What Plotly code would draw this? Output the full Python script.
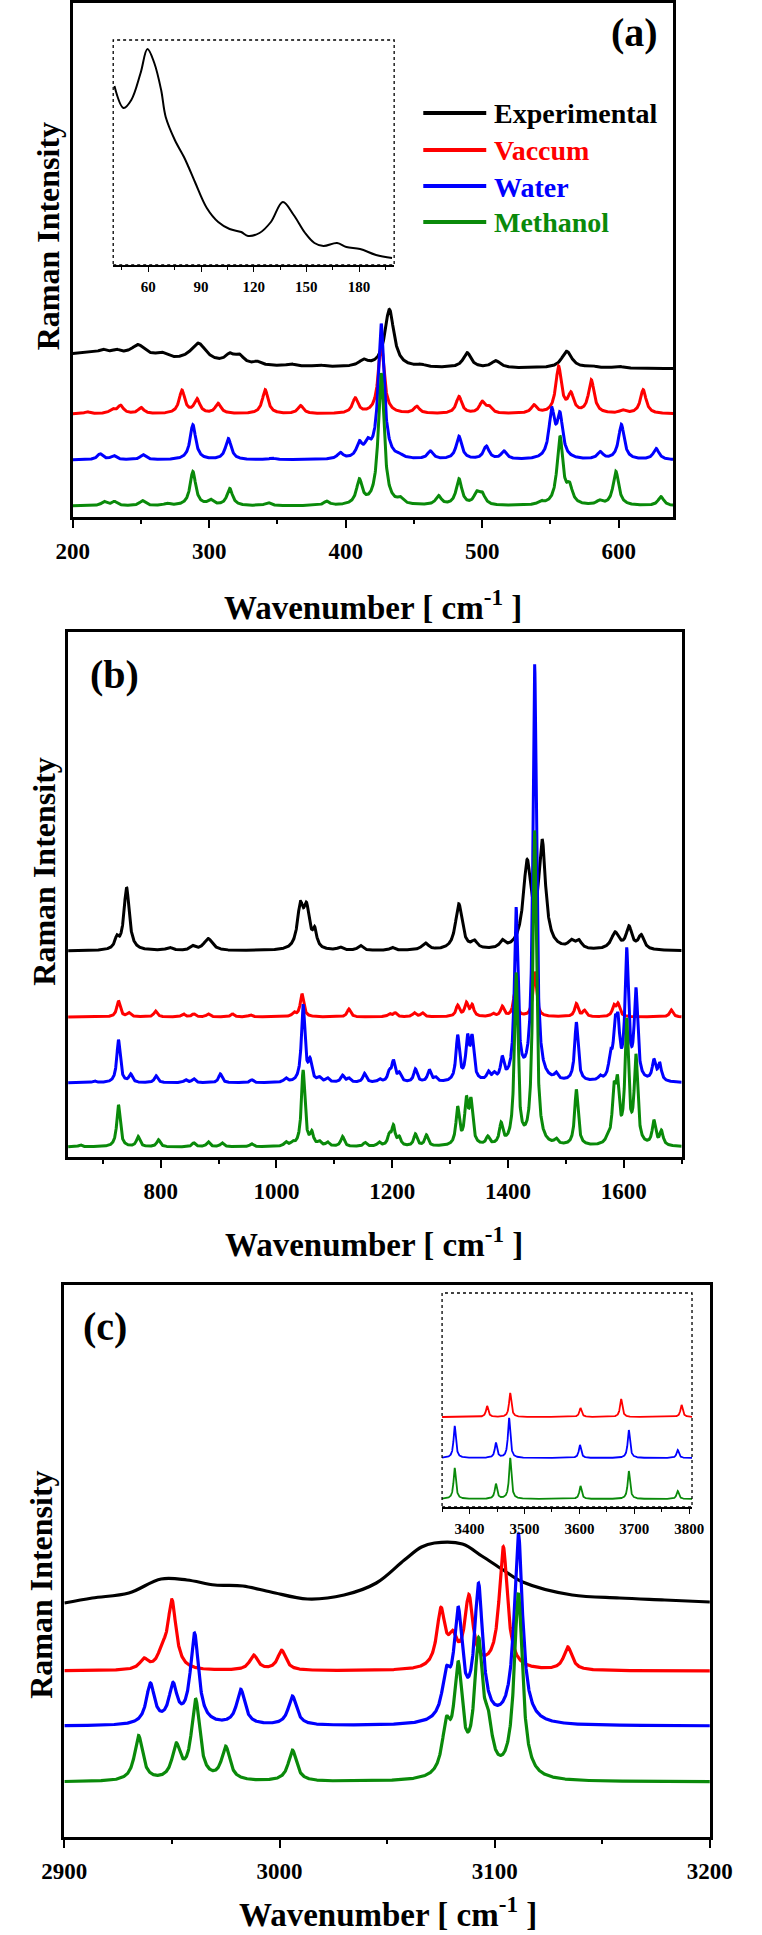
import numpy as np
import plotly.graph_objects as go

W, H = 762, 1935
FONT = "Liberation Serif"

SERIES = ["Experimental", "Vaccum", "Water", "Methanol"]
COLORS = ["#000000", "#ff0000", "#0000ff", "#0a8a0a"]

# ---------------- Panel (a): 200-640 cm-1 ----------------
# experimental: (position, height, half-width)
A_EXP_PEAKS = [(215, 16, 60), (222, 3, 3), (232, 3, 3), (248, 11, 6), (265, 5, 5),
               (292, 19, 7), (315, 8, 4), (322, 8, 4), (335, 3, 3), (360, 2, 4),
               (380, 1.5, 4), (413, 6, 4), (432, 58, 4), (455, 2, 4), (489, 15, 3.5),
               (510, 7, 4), (562, 17, 4.5), (580, 2, 4), (600, 2, 4)]
A_VAC_PEAKS = [(210.5, 2), (229, 4), (235, 8), (250, 6), (280, 23), (291, 14), (306.5, 10),
               (341, 24), (367, 8), (407, 15), (426, 70), (452, 7), (483, 17), (500, 11),
               (505, 6), (538, 8), (556, 46), (565, 18), (580, 33), (603, 3), (618, 24)]
A_WAT_PEAKS = [(220, 6), (230, 4), (251.5, 5), (288, 35), (314, 21), (346, 1.5), (396, 6),
               (410, 14), (416, 12), (426, 135), (439.5, 2), (462, 8), (483, 23), (503, 13),
               (516, 8), (551, 46), (557, 41), (586.5, 7), (602, 35), (627.5, 11)]
A_MET_PEAKS = [(223, 4), (230.5, 4), (251, 5), (269, 2), (288, 34), (301, 5), (315, 17),
               (343, 3), (386, 4), (410, 24), (426, 132), (440, 5), (468, 9), (483, 26),
               (496, 11), (500, 10), (543, 3), (557, 68), (564, 16), (586, 4), (598, 34), (631, 9)]
A_OFFSETS = [148, 103, 57, 11]
A_TICKS = [200, 300, 400, 500, 600]

# inset (a): low-frequency experimental spectrum (x, intensity)
A_INSET_X = [40.7, 45.9, 50.3, 55.6, 59.5, 63.4, 67.3, 69.9, 75.1, 80.3, 82.9, 86.8, 93.3,
             99.8, 106.3, 112.9, 116.8, 123.3, 129.8, 136.6, 142.8, 149.3, 154.6, 159.7,
             167.5, 172.8, 180.6, 189.7, 198.8]
A_INSET_Y = [179, 157, 165, 192, 216, 202, 175, 148, 125, 108, 98, 82, 57,
             43, 36, 33, 29, 32, 43, 63, 50, 32, 22, 19,
             22, 18, 16, 10, 7]
A_INSET_TICKS = [60, 90, 120, 150, 180]

# ---------------- Panel (b): 640-1700 cm-1 ----------------
B_EXP_PEAKS = [(724, 10, 4), (741, 63, 5.5), (815, 3, 6), (855, 4, 5), (882, 12, 9),
               (1041, 40, 6), (1052, 38, 6), (1066, 16, 4), (1110, 3, 5), (1145, 5, 5),
               (1200, 3, 5), (1257, 7, 7), (1315, 46, 7), (1342, 7, 6), (1390, 7, 5),
               (1433, 84, 8), (1459, 104, 7), (1509, 7, 6), (1522, 8, 6), (1585, 17, 8),
               (1609, 22, 6), (1630, 14, 6)]
B_VAC_PEAKS = [(727, 16), (745, 4), (791, 6), (839, 3), (857, 3), (882, 3), (924, 3),
               (955, 2), (1030, 4), (1044, 23), (1125, 8), (1195, 3), (1205, 4), (1238, 4),
               (1252, 4), (1313, 11), (1328, 13), (1338, 11), (1374, 3), (1390, 10),
               (1412, 25), (1446, 45), (1518, 13), (1532, 6), (1583, 10), (1590, 12), (1682, 7)]
B_WAT_PEAKS = [(685, 2), (727, 43), (748, 8), (792, 7), (843, 3), (857, 4), (903, 9),
               (957, 3), (1016, 4), (1046, 77), (1058, 19), (1074, 4), (1088, 4), (1114, 7),
               (1125, 4), (1152, 9), (1178, 3), (1195, 9), (1202, 20), (1212, 8), (1240, 13),
               (1264, 12), (1275, 4), (1313, 45), (1330, 40), (1338, 40), (1366, 8), (1376, 6),
               (1390, 21), (1414, 170), (1446, 416), (1483, 6), (1518, 59), (1559, 4),
               (1577, 20), (1585, 44), (1590, 46), (1605, 127), (1621, 88), (1652, 20), (1662, 17)]
B_MET_PEAKS = [(661, 2), (727, 42), (761, 10), (796, 7), (857, 4), (882, 5), (906, 4),
               (957, 3), (1016, 4), (1028, 3), (1046, 76), (1061, 12), (1074, 4), (1088, 4),
               (1114, 10), (1153, 4), (1177, 4), (1195, 10), (1202, 19), (1212, 8), (1240, 12),
               (1259, 11), (1313, 37), (1328, 42), (1336, 41), (1365, 8), (1388, 20),
               (1414, 170), (1446, 314), (1483, 5), (1518, 56), (1572, 5), (1583, 47),
               (1589, 53), (1605, 121), (1621, 86), (1652, 24), (1665, 14)]
B_OFFSETS = [206, 140, 74, 10]
B_TICKS = [800, 1000, 1200, 1400, 1600]

# ---------------- Panel (c): 2900-3200 cm-1 ----------------
C_EXP_X = [2900, 2913, 2930, 2945, 2957, 2970, 2983, 2996, 3013, 3030, 3045, 3058,
           3066, 3072, 3085, 3094, 3104, 3113, 3136, 3158, 3179, 3200]
C_EXP_Y = [0, 5, 10, 24, 23, 18, 17, 11, 4, 8, 20, 43,
           56, 60, 59, 47, 33, 21, 8, 5, 3, 1]
C_VAC_PEAKS = [(2937, 10), (2945.5, 14), (2950, 68), (2988, 15), (3001, 20), (3075, 57),
               (3080.5, 25), (3088, 70), (3104, 122), (3134, 23)]
C_WAT_PEAKS = [(2940, 40), (2950.5, 37), (2960.5, 90), (2982, 35), (3006, 29),
               (3077.5, 40), (3083, 105), (3092.5, 133), (3111, 190)]
C_MET_PEAKS = [(2934.5, 45), (2952, 33), (2961, 80), (2975, 33), (3006, 31),
               (3077.5, 45), (3083, 105), (3092.5, 127), (3097, 38), (3111, 185)]
C_OFFSETS = [234, 166, 111, 55]
C_TICKS = [2900, 3000, 3100, 3200]

# inset (c): 3350-3805 cm-1
CI_VAC_PEAKS = [(3432, 11), (3474, 24), (3602, 9), (3676, 18), (3786, 12)]
CI_WAT_PEAKS = [(3373, 32), (3448, 15), (3472, 40), (3601, 13), (3690, 28), (3779, 8)]
CI_MET_PEAKS = [(3373, 31), (3448, 15), (3474, 41), (3602, 13), (3690, 28), (3779, 8)]
CI_OFFSETS = [90, 49, 8]
CI_TICKS = [3400, 3500, 3600, 3700, 3800]

HW_A, HW_B, HW_C, HW_CI = 2.5, 3.5, 2.3, 2.5


def spectrum(x, peaks, hw, base):
    y = np.full_like(x, float(base))
    for p in peaks:
        w = p[2] if len(p) > 2 else hw
        y += p[1] / (1.0 + ((x - p[0]) / w) ** 2)
    return y


def px_x(px):
    return px / W


def px_y(py):
    return 1 - py / H


fig = go.Figure()

# panel (a)
xa = np.arange(200, 640.001, 0.2)
a_sets = [(A_EXP_PEAKS, None), (A_VAC_PEAKS, HW_A), (A_WAT_PEAKS, HW_A), (A_MET_PEAKS, HW_A)]
for i, (pk, hw) in enumerate(a_sets):
    fig.add_trace(go.Scatter(x=xa, y=spectrum(xa, pk, hw, A_OFFSETS[i]), mode="lines",
                             name=SERIES[i], line=dict(color=COLORS[i], width=3),
                             xaxis="x", yaxis="y", showlegend=False))
fig.add_trace(go.Scatter(x=A_INSET_X, y=A_INSET_Y, mode="lines", line_shape="spline",
                         line=dict(color="black", width=2), xaxis="x2", yaxis="y2",
                         showlegend=False, name="Experimental (low)"))

# panel (b)
xb = np.arange(640, 1700.001, 0.25)
b_sets = [(B_EXP_PEAKS, None), (B_VAC_PEAKS, HW_B), (B_WAT_PEAKS, HW_B), (B_MET_PEAKS, HW_B)]
for i, (pk, hw) in enumerate(b_sets):
    fig.add_trace(go.Scatter(x=xb, y=spectrum(xb, pk, hw, B_OFFSETS[i]), mode="lines",
                             name=SERIES[i], line=dict(color=COLORS[i], width=3),
                             xaxis="x3", yaxis="y3", showlegend=False))

# panel (c)
xc = np.arange(2900, 3200.001, 0.1)
fig.add_trace(go.Scatter(x=C_EXP_X, y=[v + C_OFFSETS[0] for v in C_EXP_Y], mode="lines",
                         line_shape="spline", name=SERIES[0],
                         line=dict(color=COLORS[0], width=3.2), xaxis="x4", yaxis="y4",
                         showlegend=False))
for i, pk in enumerate([C_VAC_PEAKS, C_WAT_PEAKS, C_MET_PEAKS], start=1):
    fig.add_trace(go.Scatter(x=xc, y=spectrum(xc, pk, HW_C, C_OFFSETS[i]), mode="lines",
                             name=SERIES[i], line=dict(color=COLORS[i], width=3.2),
                             xaxis="x4", yaxis="y4", showlegend=False))

# inset (c)
xci = np.arange(3350, 3805.001, 0.25)
for i, pk in enumerate([CI_VAC_PEAKS, CI_WAT_PEAKS, CI_MET_PEAKS]):
    fig.add_trace(go.Scatter(x=xci, y=spectrum(xci, pk, HW_CI, CI_OFFSETS[i]), mode="lines",
                             name=SERIES[i + 1], line=dict(color=COLORS[i + 1], width=1.8),
                             xaxis="x5", yaxis="y5", showlegend=False))

tickfont_main = dict(family=FONT, size=23, color="black")
tickfont_inset = dict(family=FONT, size=15, color="black")


def bold(vals):
    return ["<b>%d</b>" % v for v in vals]


def main_x(domain, rng, ticks, minor_dtick, anchor):
    return dict(domain=domain, range=rng, anchor=anchor, showline=True, linecolor="black",
                linewidth=2.5, mirror=True, ticks="outside", ticklen=8, tickwidth=2,
                tickcolor="black", tickmode="array", tickvals=ticks, ticktext=bold(ticks),
                showgrid=False, zeroline=False, tickfont=tickfont_main, ticklabelstandoff=4,
                minor=dict(ticks="outside", ticklen=4, tickwidth=2, tickcolor="black",
                           tickmode="linear", dtick=minor_dtick, tick0=0, showgrid=False))


def main_y(domain, rng, anchor):
    return dict(domain=domain, range=rng, anchor=anchor, showline=True, linecolor="black",
                linewidth=2.5, mirror=True, ticks="", showticklabels=False, showgrid=False,
                zeroline=False)


def inset_x(domain, rng, ticks, minor_dtick, anchor):
    return dict(domain=domain, range=rng, anchor=anchor, showline=True, linecolor="black",
                linewidth=1.5, mirror=False, ticks="outside", ticklen=5, tickwidth=1.2,
                tickcolor="black", tickmode="array", tickvals=ticks, ticktext=bold(ticks),
                showgrid=False, zeroline=False, tickfont=tickfont_inset, ticklabelstandoff=2,
                minor=dict(ticks="outside", ticklen=3, tickwidth=1.2, tickcolor="black",
                           tickmode="linear", dtick=minor_dtick, tick0=0, showgrid=False))


def inset_y(domain, rng, anchor):
    return dict(domain=domain, range=rng, anchor=anchor, visible=False, showgrid=False,
                zeroline=False)


# pixel boxes: (left, top, right, bottom)
PA = (53, 3, 692, 517)
PAI = (96, 40, 395, 265)
PB = (48, 632, 701, 1157)
PC = (44, 1285, 731, 1837)
PCI = (446, 1293, 712, 1507)


def dx(box):
    return [px_x(box[0]), px_x(box[2])]


def dy(box):
    return [px_y(box[3]), px_y(box[1])]


fig.update_layout(
    width=W, height=H, autosize=False,
    margin=dict(l=0, r=0, t=0, b=0, pad=0),
    paper_bgcolor="white", plot_bgcolor="rgba(0,0,0,0)",
    xaxis=main_x(dx(PA), [200, 640], A_TICKS, 50, "y"),
    yaxis=main_y(dy(PA), [0, PA[3] - PA[1]], "x"),
    xaxis2=inset_x(dx(PAI), [40, 200], A_INSET_TICKS, 15, "y2"),
    yaxis2=inset_y(dy(PAI), [0, PAI[3] - PAI[1]], "x2"),
    xaxis3=main_x(dx(PB), [640, 1700], B_TICKS, 100, "y3"),
    yaxis3=main_y(dy(PB), [0, PB[3] - PB[1]], "x3"),
    xaxis4=main_x(dx(PC), [2900, 3200], C_TICKS, 50, "y4"),
    yaxis4=main_y(dy(PC), [0, PC[3] - PC[1]], "x4"),
    xaxis5=inset_x(dx(PCI), [3350, 3805], CI_TICKS, 50, "y5"),
    yaxis5=inset_y(dy(PCI), [0, PCI[3] - PCI[1]], "x5"),
)

shapes = []
for box in (PAI, PCI):
    shapes.append(dict(type="rect", xref="paper", yref="paper",
                       x0=px_x(box[0]), x1=px_x(box[2]), y0=px_y(box[3]), y1=px_y(box[1]),
                       line=dict(color="black", width=1.3, dash="dot")))

annotations = []
# legend in panel (a)
LEG_ROWS = [113, 150, 186, 222]
for i, name in enumerate(SERIES):
    shapes.append(dict(type="line", xref="paper", yref="paper",
                       x0=px_x(426), x1=px_x(493), y0=px_y(LEG_ROWS[i]), y1=px_y(LEG_ROWS[i]),
                       line=dict(color=COLORS[i], width=4)))
    annotations.append(dict(xref="paper", yref="paper", x=px_x(499), y=px_y(LEG_ROWS[i] + 1),
                            xanchor="left", yanchor="middle", showarrow=False,
                            text="<b>%s</b>" % name,
                            font=dict(family=FONT, size=28, color=COLORS[i])))

# panel labels
for lab, (x, y) in [("(a)", (651, 33)), ("(b)", (97, 674)), ("(c)", (87, 1326))]:
    annotations.append(dict(xref="paper", yref="paper", x=px_x(x), y=px_y(y),
                            xanchor="center", yanchor="middle", showarrow=False,
                            text="<b>%s</b>" % lab, font=dict(family=FONT, size=40, color="black")))

# axis titles
for (x, y) in [(372, 605), (374, 1242), (388, 1912)]:
    annotations.append(dict(xref="paper", yref="paper", x=px_x(x), y=px_y(y),
                            xanchor="center", yanchor="middle", showarrow=False,
                            text="<b>Wavenumber [ cm<sup>-1</sup> ]</b>",
                            font=dict(family=FONT, size=33, color="black")))
for (x, y) in [(27, 236), (22, 872), (19, 1585)]:
    annotations.append(dict(xref="paper", yref="paper", x=px_x(x), y=px_y(y),
                            xanchor="center", yanchor="middle", showarrow=False,
                            textangle=-90, text="<b>Raman Intensity</b>",
                            font=dict(family=FONT, size=32, color="black")))

fig.update_layout(shapes=shapes, annotations=annotations)
fig.write_html(
    "out.html",
    config={"displayModeBar": False, "staticPlot": False},
    post_script=("document.documentElement.style.margin='0';"
                 "document.body.style.margin='0';document.body.style.padding='0';"
                 "document.documentElement.style.overflow='hidden';"
                 "document.body.style.overflow='hidden';"),
)
